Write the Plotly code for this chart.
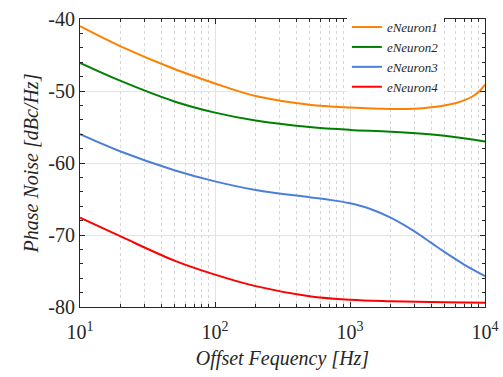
import plotly.graph_objects as go

# ---- data ----
f1 = [10, 20, 50, 100, 200, 500, 1000, 2000, 3000, 4000, 5000, 6000, 7000, 8000, 9000, 10000]
v1 = [-41.0, -43.8, -46.95, -48.95, -50.7, -51.9, -52.3, -52.5, -52.45, -52.25, -52.0, -51.7, -51.3, -50.8,
      -50.1, -49.1]

f2 = [10, 20, 50, 100, 200, 500, 1000, 2000, 5000, 10000]
v2 = [-46.1, -48.6, -51.45, -53.0, -54.1, -55.0, -55.4, -55.65, -56.2, -57.0]

f3 = [10, 20, 50, 100, 200, 500, 700, 1000, 1400, 2000, 3000, 4000, 5000, 7000, 10000]
v3 = [-56.0, -58.4, -61.0, -62.55, -63.75, -64.75, -65.1, -65.6, -66.35, -67.6, -69.5, -71.1, -72.35, -74.1, -75.7]

f4 = [10, 20, 50, 100, 200, 500, 1000, 2000, 5000, 10000]
v4 = [-67.6, -70.2, -73.55, -75.5, -77.1, -78.5, -79.0, -79.2, -79.35, -79.4]

names = ["eNeuron1", "eNeuron2", "eNeuron3", "eNeuron4"]
colors = ["#FF8000", "#008000", "#4D7FD9", "#FF0000"]

x_ticks = [10, 100, 1000, 10000]
x_ticktext = ["10<sup>1</sup>", "10<sup>2</sup>", "10<sup>3</sup>", "10<sup>4</sup>"]
x_minor = [m * d for d in (10, 100, 1000) for m in range(2, 10)]
y_ticks = [-80, -70, -60, -50, -40]
y_ticktext = ["-80", "-70", "-60", "-50", "-40"]

fig = go.Figure()
for f, v, n, c in zip([f1, f2, f3, f4], [v1, v2, v3, v4], names, colors):
    fig.add_trace(go.Scatter(x=f, y=v, mode="lines", name=n,
                             line=dict(color=c, width=2, shape="spline", smoothing=1.0)))

serif = '"Liberation Serif", "Times New Roman", serif'
axis_common = dict(
    showline=True, linecolor="#262626", linewidth=1, mirror="ticks",
    ticks="inside", ticklen=5, tickcolor="#262626",
    tickfont=dict(family=serif, size=20, color="#262626"),
    gridcolor="#E3E3E3", gridwidth=1, zeroline=False, automargin=False,
)

fig.update_xaxes(
    type="log", range=[1, 4], tickvals=x_ticks, ticktext=x_ticktext,
    ticklabelposition="outside", ticklabelstandoff=7,
    title=dict(text="Offset Fequency [Hz]", font=dict(family=serif, size=20, style="italic", color="#262626"),
               standoff=8),
    minor=dict(tickvals=x_minor, ticks="inside", ticklen=3, tickcolor="#262626", showgrid=True,
               gridcolor="#D6D6D6", griddash="dot", gridwidth=1),
    **axis_common,
)
fig.update_yaxes(
    range=[-80, -40], tickvals=y_ticks, ticktext=y_ticktext,
    title=dict(text="Phase Noise [dBc/Hz]", font=dict(family=serif, size=20, style="italic", color="#262626"),
               standoff=4),
    minor=dict(dtick=2, ticks="inside", ticklen=3, tickcolor="#262626", showgrid=False),
    **axis_common,
)

fig.update_layout(
    width=503, height=377,
    margin=dict(l=80, r=18, t=13, b=70),
    plot_bgcolor="white", paper_bgcolor="white",
    legend=dict(x=0.659, y=1.024, xanchor="left", yanchor="top",
                bgcolor="white", borderwidth=0,
                font=dict(family=serif, size=13, style="italic", color="#262626"),
                tracegroupgap=0),
)

fig.write_html("out.html")
